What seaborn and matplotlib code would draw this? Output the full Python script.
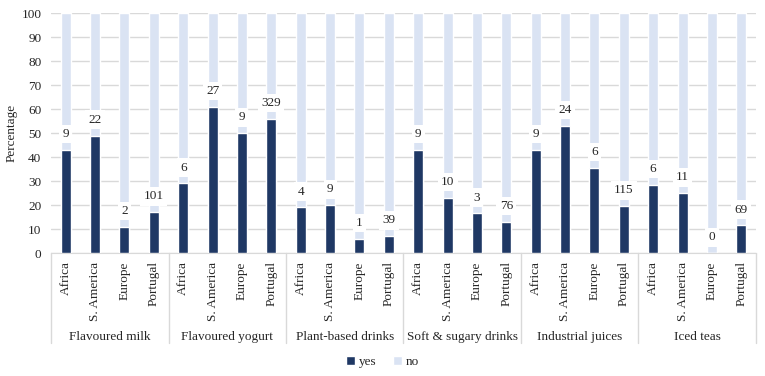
import matplotlib.pyplot as plt
import seaborn as sns
import pandas as pd
from matplotlib.patches import Patch
from matplotlib.transforms import blended_transform_factory

# data
groups = ["Flavoured milk", "Flavoured yogurt", "Plant-based drinks",
          "Soft & sugary drinks", "Industrial juices", "Iced teas"]
regions = ["Africa", "S. America", "Europe", "Portugal"]
yes_pct = [
    [43, 49, 11, 17],
    [29, 61, 50, 56],
    [19, 20, 6, 7],
    [43, 23, 16.5, 13],
    [43, 53, 35.5, 19.5],
    [28.5, 25, 0, 11.5],
]
n_yes = [
    [9, 22, 2, 101],
    [6, 27, 9, 329],
    [4, 9, 1, 39],
    [9, 10, 3, 76],
    [9, 24, 6, 115],
    [6, 11, 0, 69],
]
yticks = list(range(0, 101, 10))

DARK = "#1F3864"
LIGHT = "#DAE3F3"
GRID = "#D9D9D9"
TXT = "#262626"
FS = 9.5


def build_frame():
    rows = []
    for g, vals, ns in zip(groups, yes_pct, n_yes):
        for r, v, n in zip(regions, vals, ns):
            rows.append({"key": f"{g}|{r}", "group": g, "region": r,
                         "yes": v, "total": 100, "n": n})
    return pd.DataFrame(rows)


def main():
    df = build_frame()
    sns.set_style("white")
    plt.rcParams["font.family"] = ["Liberation Serif", "DejaVu Serif"]

    fig = plt.figure(figsize=(7.65, 3.76), dpi=100)
    ax = fig.add_axes([0.0667, 0.327, 0.9215, 0.638])

    sns.barplot(data=df, x="key", y="total", color=LIGHT, width=0.34,
                saturation=1, ax=ax, zorder=2)
    sns.barplot(data=df, x="key", y="yes", color=DARK, width=0.34,
                saturation=1, ax=ax, zorder=3)

    # count labels with white boxes just above the "yes" part
    for i, row in df.iterrows():
        ax.text(i, row["yes"] + 6.6, str(row["n"]), ha="center",
                va="center", fontsize=FS, color=TXT, zorder=5,
                bbox=dict(facecolor="white", edgecolor="none", pad=2.4))

    ax.set_ylim(0, 100)
    ax.set_xlim(-0.5, len(df) - 0.5)
    ax.set_yticks(yticks)
    ax.set_yticklabels([str(t) for t in yticks], fontsize=FS, color=TXT)
    ax.yaxis.grid(True, color=GRID, linewidth=1, zorder=0)
    ax.set_axisbelow(True)
    ax.set_ylabel("Percentage", fontsize=FS, color=TXT)
    ax.yaxis.set_label_coords(-0.048, 0.5)
    ax.set_xlabel("")
    ax.set_xticks(range(len(df)))
    ax.set_xticklabels(df["region"], rotation=90, fontsize=FS, color=TXT,
                       ha="center", va="top")
    ax.tick_params(axis="both", length=0)
    ax.tick_params(axis="x", pad=6)
    ax.tick_params(axis="y", pad=7)
    for s in ["left", "right", "top"]:
        ax.spines[s].set_visible(False)
    ax.spines["bottom"].set_color(GRID)

    # group labels and separators below the axis
    trans = blended_transform_factory(ax.transData, ax.transAxes)
    for k, g in enumerate(groups):
        ax.text(k * 4 + 1.5, -0.35, g, transform=trans, ha="center",
                va="center", fontsize=FS, color=TXT)
    for k in range(len(groups) + 1):
        ax.plot([k * 4 - 0.5] * 2, [0, -0.375], transform=trans,
                color=GRID, linewidth=1, clip_on=False)

    handles = [Patch(facecolor=DARK, label="yes"),
               Patch(facecolor=LIGHT, label="no")]
    fig.legend(handles=handles, loc="center", bbox_to_anchor=(0.5, 0.037),
               ncol=2, frameon=False, fontsize=FS, handlelength=0.7,
               handleheight=0.7, handletextpad=0.3, columnspacing=1.2)

    fig.savefig("out.png", dpi=100)


if __name__ == "__main__":
    main()
